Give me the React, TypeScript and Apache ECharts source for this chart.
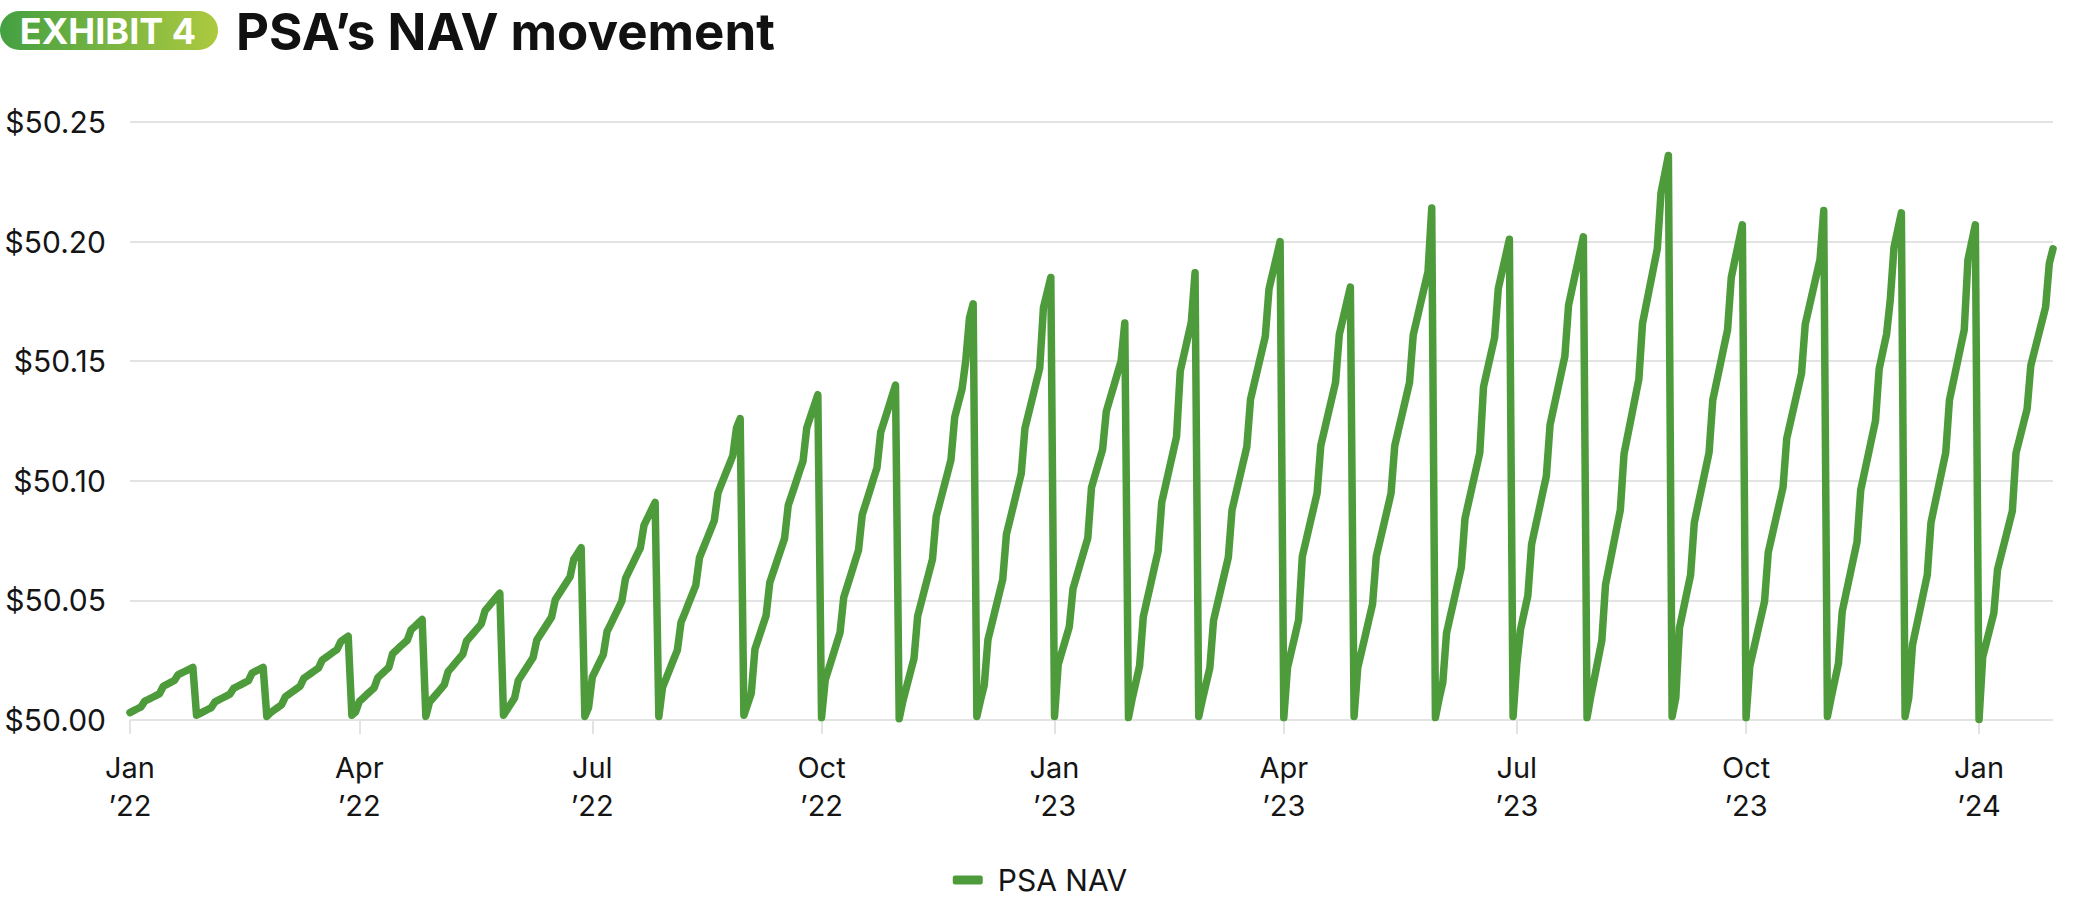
import React, { useEffect, useRef } from "react";
import * as echarts from "echarts";

// ---- Data -----------------------------------------------------------------
// Business-day categories (NAV publication dates)
const START_DATE = "2022-01-05";
const END_DATE = "2024-01-31";
const HOLIDAYS = [
  "2022-01-17", "2022-02-21", "2022-04-15", "2022-05-30", "2022-07-04",
  "2022-09-05", "2022-11-24", "2022-12-26", "2023-01-02", "2023-01-16",
  "2023-02-20", "2023-04-07", "2023-05-29", "2023-06-19", "2023-07-04",
  "2023-09-04", "2023-11-23", "2023-12-25", "2024-01-01", "2024-01-15",
];

// Daily NAV per publication month
const jan22 = [50.0031, 50.0039, 50.0047, 50.0055, 50.0079, 50.0086, 50.0094, 50.0102, 50.0110, 50.0141, 50.0149, 50.0157, 50.0165, 50.0189, 50.0197, 50.0204, 50.0212, 50.0220];
const feb22 = [50.0020, 50.0028, 50.0036, 50.0044, 50.0052, 50.0076, 50.0084, 50.0092, 50.0100, 50.0108, 50.0132, 50.0140, 50.0148, 50.0156, 50.0164, 50.0196, 50.0204, 50.0212, 50.0220];
const mar22 = [50.0015, 50.0031, 50.0042, 50.0053, 50.0064, 50.0097, 50.0108, 50.0119, 50.0130, 50.0141, 50.0174, 50.0185, 50.0196, 50.0207, 50.0218, 50.0251, 50.0262, 50.0273, 50.0284, 50.0295, 50.0328, 50.0339, 50.0350];
const apr22 = [50.0020, 50.0034, 50.0077, 50.0091, 50.0106, 50.0120, 50.0134, 50.0177, 50.0191, 50.0206, 50.0220, 50.0277, 50.0291, 50.0306, 50.0320, 50.0334, 50.0377, 50.0391, 50.0406, 50.0420];
const may22 = [50.0015, 50.0075, 50.0093, 50.0111, 50.0129, 50.0148, 50.0202, 50.0220, 50.0239, 50.0257, 50.0275, 50.0330, 50.0348, 50.0366, 50.0384, 50.0402, 50.0457, 50.0475, 50.0494, 50.0512, 50.0530];
const jun22 = [50.0020, 50.0044, 50.0068, 50.0092, 50.0165, 50.0189, 50.0213, 50.0237, 50.0261, 50.0334, 50.0358, 50.0382, 50.0406, 50.0430, 50.0503, 50.0527, 50.0551, 50.0575, 50.0599, 50.0672, 50.0696, 50.0720];
const jul22 = [50.0015, 50.0052, 50.0179, 50.0211, 50.0243, 50.0274, 50.0370, 50.0401, 50.0433, 50.0465, 50.0497, 50.0592, 50.0624, 50.0656, 50.0688, 50.0719, 50.0815, 50.0846, 50.0878, 50.0910];
const aug22 = [50.0015, 50.0136, 50.0175, 50.0214, 50.0253, 50.0291, 50.0408, 50.0446, 50.0485, 50.0524, 50.0563, 50.0679, 50.0718, 50.0756, 50.0795, 50.0834, 50.0950, 50.0989, 50.1028, 50.1066, 50.1105, 50.1221, 50.1260];
const sep22 = [50.0020, 50.0066, 50.0112, 50.0297, 50.0343, 50.0390, 50.0436, 50.0574, 50.0621, 50.0667, 50.0713, 50.0759, 50.0898, 50.0944, 50.0990, 50.1037, 50.1083, 50.1221, 50.1268, 50.1314, 50.1360];
const oct22 = [50.0010, 50.0168, 50.0217, 50.0266, 50.0316, 50.0365, 50.0513, 50.0562, 50.0611, 50.0661, 50.0710, 50.0858, 50.0907, 50.0956, 50.1006, 50.1055, 50.1203, 50.1252, 50.1301, 50.1351, 50.1400];
const nov22 = [50.0005, 50.0079, 50.0139, 50.0198, 50.0257, 50.0435, 50.0494, 50.0554, 50.0613, 50.0672, 50.0850, 50.0910, 50.0969, 50.1028, 50.1088, 50.1265, 50.1325, 50.1384, 50.1503, 50.1681, 50.1740];
const dec22 = [50.0015, 50.0083, 50.0146, 50.0336, 50.0399, 50.0462, 50.0525, 50.0588, 50.0777, 50.0840, 50.0903, 50.0967, 50.1030, 50.1219, 50.1282, 50.1345, 50.1408, 50.1471, 50.1724, 50.1787, 50.1850];
const jan23 = [50.0015, 50.0232, 50.0285, 50.0337, 50.0390, 50.0549, 50.0602, 50.0655, 50.0708, 50.0761, 50.0972, 50.1025, 50.1078, 50.1131, 50.1290, 50.1343, 50.1395, 50.1448, 50.1501, 50.1660];
const feb23 = [50.0010, 50.0089, 50.0157, 50.0226, 50.0431, 50.0500, 50.0568, 50.0637, 50.0705, 50.0911, 50.0979, 50.1048, 50.1116, 50.1185, 50.1459, 50.1527, 50.1596, 50.1664, 50.1870];
const mar23 = [50.0015, 50.0086, 50.0152, 50.0218, 50.0416, 50.0482, 50.0548, 50.0614, 50.0680, 50.0878, 50.0944, 50.1010, 50.1076, 50.1142, 50.1340, 50.1406, 50.1472, 50.1538, 50.1604, 50.1802, 50.1868, 50.1934, 50.2000];
const apr23 = [50.0010, 50.0219, 50.0285, 50.0351, 50.0418, 50.0683, 50.0749, 50.0816, 50.0882, 50.0948, 50.1147, 50.1213, 50.1280, 50.1346, 50.1412, 50.1611, 50.1677, 50.1744, 50.1810];
const may23 = [50.0015, 50.0219, 50.0285, 50.0351, 50.0418, 50.0484, 50.0683, 50.0749, 50.0815, 50.0881, 50.0948, 50.1146, 50.1213, 50.1279, 50.1345, 50.1411, 50.1610, 50.1676, 50.1743, 50.1809, 50.1875, 50.2140];
const jun23 = [50.0010, 50.0089, 50.0157, 50.0363, 50.0432, 50.0500, 50.0569, 50.0638, 50.0843, 50.0912, 50.0981, 50.1049, 50.1118, 50.1392, 50.1461, 50.1530, 50.1598, 50.1804, 50.1873, 50.1941, 50.2010];
const jul23 = [50.0015, 50.0234, 50.0377, 50.0449, 50.0520, 50.0734, 50.0806, 50.0877, 50.0949, 50.1020, 50.1234, 50.1306, 50.1377, 50.1449, 50.1520, 50.1734, 50.1806, 50.1877, 50.1949, 50.2020];
const aug23 = [50.0010, 50.0098, 50.0176, 50.0254, 50.0332, 50.0566, 50.0644, 50.0722, 50.0800, 50.0878, 50.1112, 50.1190, 50.1268, 50.1346, 50.1424, 50.1658, 50.1736, 50.1814, 50.1892, 50.1970, 50.2204, 50.2282, 50.2360];
const sep23 = [50.0015, 50.0093, 50.0386, 50.0459, 50.0533, 50.0606, 50.0825, 50.0899, 50.0972, 50.1045, 50.1118, 50.1338, 50.1411, 50.1484, 50.1558, 50.1631, 50.1850, 50.1924, 50.1997, 50.2070];
const oct23 = [50.0010, 50.0224, 50.0292, 50.0360, 50.0428, 50.0496, 50.0701, 50.0769, 50.0837, 50.0905, 50.0973, 50.1177, 50.1245, 50.1313, 50.1381, 50.1449, 50.1654, 50.1722, 50.1790, 50.1858, 50.1926, 50.2130];
const nov23 = [50.0015, 50.0092, 50.0165, 50.0237, 50.0454, 50.0527, 50.0599, 50.0672, 50.0744, 50.0961, 50.1034, 50.1106, 50.1179, 50.1251, 50.1468, 50.1541, 50.1613, 50.1758, 50.1975, 50.2048, 50.2120];
const dec23 = [50.0015, 50.0093, 50.0313, 50.0386, 50.0459, 50.0533, 50.0606, 50.0825, 50.0899, 50.0972, 50.1045, 50.1118, 50.1338, 50.1411, 50.1484, 50.1558, 50.1631, 50.1924, 50.1997, 50.2070];
const jan24 = [50.0002, 50.0264, 50.0325, 50.0386, 50.0447, 50.0629, 50.0690, 50.0751, 50.0812, 50.0873, 50.1117, 50.1178, 50.1239, 50.1300, 50.1482, 50.1543, 50.1604, 50.1665, 50.1726, 50.1909, 50.1970];

const MONTHLY_NAV = [
  jan22, feb22, mar22, apr22, may22, jun22, jul22, aug22, sep22, oct22, nov22, dec22,
  jan23, feb23, mar23, apr23, may23, jun23, jul23, aug23, sep23, oct23, nov23, dec23,
  jan24,
];

// X-axis tick labels and the category positions where they sit
const TICK_INDEX = [0, 62, 125, 187, 250, 312, 375, 437, 500];
const TICK_LABELS = [
  "Jan\n\u201922", "Apr\n\u201922", "Jul\n\u201922", "Oct\n\u201922",
  "Jan\n\u201923", "Apr\n\u201923", "Jul\n\u201923", "Oct\n\u201923",
  "Jan\n\u201924",
];

const Y_MIN = 50;
const Y_MAX = 50.25;
const Y_STEP = 0.05;

const SERIES_NAME = "PSA NAV";
const BADGE_TEXT = "EXHIBIT 4";
const TITLE_TEXT = "PSA\u2019s NAV movement";

// ---- Helpers ----------------------------------------------------------------
function businessDays(start: string, end: string, holidays: string[]): string[] {
  const out: string[] = [];
  const hol = new Set(holidays);
  const [sy, sm, sd] = start.split("-").map(Number);
  const [ey, em, ed] = end.split("-").map(Number);
  let t = Date.UTC(sy, sm - 1, sd);
  const tEnd = Date.UTC(ey, em - 1, ed);
  while (t <= tEnd) {
    const d = new Date(t);
    const dow = d.getUTCDay();
    const iso = d.toISOString().slice(0, 10);
    if (dow !== 0 && dow !== 6 && !hol.has(iso)) out.push(iso);
    t += 86400000;
  }
  return out;
}

const FONT = "Inter, 'Noto Sans', 'DejaVu Sans', sans-serif";
const LINE_COLOR = "#4e9b3c";
const GRID_COLOR = "#e3e3e3";

export default function App() {
  const ref = useRef<HTMLDivElement>(null);

  useEffect(() => {
    if (!ref.current) return;
    const chart = echarts.init(ref.current, null, { renderer: "svg" });
    const dates = businessDays(START_DATE, END_DATE, HOLIDAYS);
    const values = MONTHLY_NAV.flat();
    const isTick = (index: number) => TICK_INDEX.indexOf(index) !== -1;

    chart.setOption({
      animation: false,
      backgroundColor: "#ffffff",
      textStyle: { fontFamily: FONT },
      grid: { left: 130, right: 27, top: 122, bottom: 180, containLabel: false },
      xAxis: {
        type: "category",
        data: dates,
        boundaryGap: false,
        axisLine: { show: false },
        axisTick: {
          show: true,
          interval: (index: number) => isTick(index),
          length: 14,
          lineStyle: { color: GRID_COLOR, width: 2 },
        },
        axisLabel: {
          interval: (index: number) => isTick(index),
          formatter: (_v: string, index: number) => {
            const k = TICK_INDEX.indexOf(index);
            return k >= 0 ? TICK_LABELS[k] : "";
          },
          margin: 28,
          fontSize: 29,
          lineHeight: 38,
          color: "#151515",
          fontFamily: FONT,
        },
        splitLine: { show: false },
      },
      yAxis: {
        type: "value",
        min: Y_MIN,
        max: Y_MAX,
        interval: Y_STEP,
        axisLine: { show: false },
        axisTick: { show: false },
        axisLabel: {
          formatter: (v: number) => "$" + v.toFixed(2),
          margin: 24,
          fontSize: 30,
          color: "#151515",
          fontFamily: FONT,
        },
        splitLine: { show: true, lineStyle: { color: GRID_COLOR, width: 2 } },
      },
      legend: {
        show: true,
        left: "center",
        top: 860,
        itemWidth: 30,
        itemHeight: 9,
        data: [{ name: SERIES_NAME, icon: "roundRect" }],
        textStyle: { fontSize: 30, color: "#151515", fontFamily: FONT, padding: [0, 0, 0, 10] },
      },
      series: [
        {
          name: SERIES_NAME,
          type: "line",
          data: values,
          showSymbol: false,
          symbol: "none",
          color: LINE_COLOR,
          lineStyle: { color: LINE_COLOR, width: 7.5, cap: "round", join: "round" },
        },
      ],
      graphic: [
        {
          type: "rect",
          x: 0,
          y: 11,
          shape: { x: 0, y: 0, width: 218, height: 39, r: 19.5 },
          style: {
            fill: new echarts.graphic.LinearGradient(0, 0, 1, 0, [
              { offset: 0, color: "#44a042" },
              { offset: 1, color: "#adc93f" },
            ]),
          },
        },
        {
          type: "text",
          x: 108,
          y: 31,
          style: {
            text: BADGE_TEXT,
            fill: "#ffffff",
            font: "bold 36px " + FONT,
            align: "center",
            verticalAlign: "middle",
            textAlign: "center",
            textVerticalAlign: "middle",
          },
        },
        {
          type: "text",
          x: 236,
          y: 31,
          style: {
            text: TITLE_TEXT,
            fill: "#111111",
            font: "bold 51px " + FONT,
            align: "left",
            verticalAlign: "middle",
            textAlign: "left",
            textVerticalAlign: "middle",
          },
        },
      ],
    });

    return () => chart.dispose();
  }, []);

  return (
    <div
      ref={ref}
      style={{ position: "absolute", left: 0, top: 0, width: 2080, height: 900, background: "#fff" }}
    />
  );
}
